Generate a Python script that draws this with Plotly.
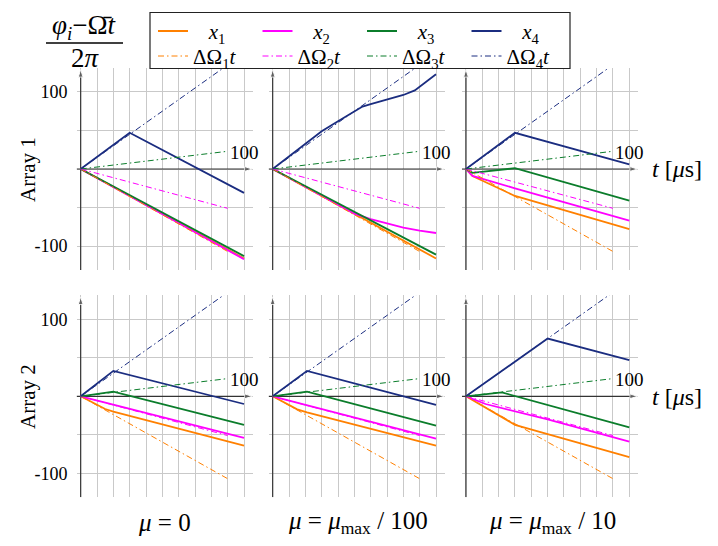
import plotly.graph_objects as go

FONT = "Liberation Serif"
COLORS = ["#ff8000", "#ff00ff", "#0b7d2b", "#1b2d80"]
SERIES_NAMES = ["\u00a0\u00a0\u00a0<i>x</i><sub>1</sub>", "\u00a0\u00a0\u00a0<i>x</i><sub>2</sub>",
                "\u00a0\u00a0\u00a0<i>x</i><sub>3</sub>", "\u00a0\u00a0\u00a0<i>x</i><sub>4</sub>"]
REF_NAMES = ["ΔΩ<sub>1</sub><i>t</i>", "ΔΩ<sub>2</sub><i>t</i>", "ΔΩ<sub>3</sub><i>t</i>", "ΔΩ<sub>4</sub><i>t</i>"]

ROW_LABELS = ["Array 1", "Array 2"]
COL_LABELS = ["<i>μ</i> = 0",
              "<i>μ</i> = <i>μ</i><sub>max</sub> / 100",
              "<i>μ</i> = <i>μ</i><sub>max</sub> / 10"]
X_TICKS = [0, 10, 20, 30, 40, 50, 60, 70, 80, 90, 100]
Y_LABEL_TICKS = [-100, 100]
Y_LABEL_TEXT = ["-100", "100"]
Y_MINOR_TICKS = [-50, 0, 50]
X_LABEL_VALUE = 100
X_RANGE = [-2.5, 105.5]
Y_RANGE = [-131, 131]
X_ARROW_END = 105
Y_ARROW_END = 129

# dash-dot reference lines  ΔΩ_i t  (t, phase)
REF_T = [0, 90]
REF_Y = [[0, -107], [0, -51], [0, 23], [0, 135]]

# Array 1, mu = 0          (x1, x2, x3, x4)
A1_M0_T = [[0, 100], [0, 100], [0, 100], [0, 30, 100]]
A1_M0_Y = [[0, -116], [0, -117], [0, -113], [0, 47, -31]]

# Array 1, mu = mu_max/100
A1_M100_T = [[0, 100], [0, 45, 50, 60, 70, 80, 90, 100], [0, 100],
             [0, 10, 20, 30, 40, 50, 55, 60, 70, 80, 87, 100]]
A1_M100_Y = [[0, -116], [0, -53, -58, -65, -71, -76, -80, -83], [0, -111],
             [0, 16, 33, 49, 62, 75, 81, 84, 90, 96, 102, 123]]

# Array 1, mu = mu_max/10
A1_M10_T = [[0, 4, 30, 60, 100], [0, 4, 30, 100], [0, 4, 30, 100], [0, 30, 100]]
A1_M10_Y = [[0, -9, -35, -53, -78], [0, -9, -25, -67], [0, -5, 1, -41], [0, 47, 6]]

# Array 2, mu = 0
A2_M0_T = [[0, 15, 20, 100], [0, 100], [0, 20, 100], [0, 20, 100]]
A2_M0_Y = [[0, -16.5, -20, -64], [0, -54], [0, 6, -37], [0, 33, -10]]

# Array 2, mu = mu_max/100
A2_M100_T = [[0, 15, 21, 100], [0, 100], [0, 21, 100], [0, 21, 100]]
A2_M100_Y = [[0, -17, -21, -64], [0, -55], [0, 6, -38], [0, 33, -11]]

# Array 2, mu = mu_max/10
A2_M10_T = [[0, 30, 50, 100], [0, 12, 50, 100], [0, 22, 100], [0, 50, 100]]
A2_M10_Y = [[0, -37, -49, -79], [0, -10, -30, -59], [0, 5, -40.5], [0, 75, 47]]

PANELS = [(A1_M0_T, A1_M0_Y), (A1_M100_T, A1_M100_Y), (A1_M10_T, A1_M10_Y),
          (A2_M0_T, A2_M0_Y), (A2_M100_T, A2_M100_Y), (A2_M10_T, A2_M10_Y)]

W, H = 718, 546
COL_PX = [(76.6, 253.0), (268.6, 445.0), (461.9, 638.3)]
ROW_PX = [(68.0, 270.0), (295.4, 497.2)]
AXIS_COLOR = "#333333"
GRID_COLOR = "#c9c9c9"
LEG_FONT = 21
LEG_H = LEG_FONT * 1.3 + 3


def px_x(p):
    return p / W


def px_y(p):
    return 1 - p / H


def legend_box(center_px):
    top = center_px - (5 + LEG_H / 2)
    return dict(orientation="h", x=px_x(153), y=px_y(top), xanchor="left", yanchor="top",
                entrywidth=59.5, bgcolor="rgba(0,0,0,0)", borderwidth=0,
                font=dict(family=FONT, size=LEG_FONT))


fig = go.Figure()
layout = dict(
    width=W, height=H, autosize=False,
    margin=dict(l=0, r=0, t=0, b=0),
    paper_bgcolor="white", plot_bgcolor="white",
    font=dict(family=FONT, size=18, color="black"),
    showlegend=True,
    legend=legend_box(31),
    legend2=legend_box(56),
)
annotations = []
shapes = []

for k, (T, Y) in enumerate(PANELS):
    r, c = divmod(k, 3)
    xs = "" if k == 0 else str(k + 1)
    xa, ya = "x" + xs, "y" + xs

    # axis lines with arrow heads (drawn beneath the data)
    fig.add_trace(go.Scatter(
        x=[X_RANGE[0], X_ARROW_END], y=[0, 0], mode="lines+markers",
        line=dict(color=AXIS_COLOR, width=1.2),
        marker=dict(symbol="arrow", angleref="previous", size=[0, 8], color=AXIS_COLOR),
        cliponaxis=False, showlegend=False, hoverinfo="skip", xaxis=xa, yaxis=ya))
    fig.add_trace(go.Scatter(
        x=[0, 0], y=[Y_RANGE[0], Y_ARROW_END], mode="lines+markers",
        line=dict(color=AXIS_COLOR, width=1.2),
        marker=dict(symbol="arrow", angleref="previous", size=[0, 8], color=AXIS_COLOR),
        cliponaxis=False, showlegend=False, hoverinfo="skip", xaxis=xa, yaxis=ya))

    for i in range(4):
        fig.add_trace(go.Scatter(
            x=T[i], y=Y[i], mode="lines", name=SERIES_NAMES[i],
            line=dict(color=COLORS[i], width=1.8),
            legend="legend", legendgroup="g%d" % i, showlegend=(k == 0),
            xaxis=xa, yaxis=ya, hoverinfo="skip"))
    for i in range(4):
        fig.add_trace(go.Scatter(
            x=REF_T, y=REF_Y[i], mode="lines", name=REF_NAMES[i],
            line=dict(color=COLORS[i], width=1, dash="6px,3px,1.5px,3px"),
            legend="legend2", legendgroup="r%d" % i, showlegend=(k == 0),
            xaxis=xa, yaxis=ya, hoverinfo="skip"))

    x0, x1 = COL_PX[c]
    y0, y1 = ROW_PX[r]
    layout["xaxis" + xs] = dict(
        domain=[px_x(x0), px_x(x1)], range=X_RANGE, anchor=ya,
        tickvals=X_TICKS, showticklabels=False, ticks="",
        showgrid=True, gridcolor=GRID_COLOR, gridwidth=1,
        zeroline=False, showline=False, fixedrange=True)
    layout["yaxis" + xs] = dict(
        domain=[px_y(y1), px_y(y0)], range=Y_RANGE, anchor=xa,
        tickmode="array", tickvals=Y_LABEL_TICKS, ticktext=Y_LABEL_TEXT,
        showticklabels=(c == 0),
        ticks="", ticklabelstandoff=8, tickfont=dict(size=18),
        showgrid=True, gridcolor=GRID_COLOR, gridwidth=1,
        minor=dict(tickmode="array", tickvals=Y_MINOR_TICKS, showgrid=True,
                   gridcolor=GRID_COLOR, gridwidth=1, ticks=""),
        zeroline=False, showline=False, fixedrange=True)

    # tick label 100 on the t axis
    annotations.append(dict(x=X_LABEL_VALUE, y=0, xref=xa, yref=ya, text=str(X_LABEL_VALUE),
                            showarrow=False, xanchor="center", yanchor="middle", yshift=17,
                            font=dict(size=19)))
    if c == 2:
        annotations.append(dict(x=px_x(650), y=px_y((y0 + y1) / 2 + 0.3), xref="paper", yref="paper",
                                text="<i>t</i> [<i>μ</i>s]", showarrow=False,
                                xanchor="left", yanchor="middle", font=dict(size=24)))

for r, lab in enumerate(ROW_LABELS):
    annotations.append(dict(x=px_x(28), y=px_y([170, 397][r]), xref="paper", yref="paper",
                            text=lab, textangle=-90, showarrow=False,
                            xanchor="center", yanchor="middle", font=dict(size=21)))
for c, lab in enumerate(COL_LABELS):
    annotations.append(dict(x=px_x([164, 358, 552][c]), y=px_y(522), xref="paper", yref="paper",
                            text=lab, showarrow=False, xanchor="center", yanchor="middle",
                            font=dict(size=25)))

# y-axis title as a fraction
annotations.append(dict(x=px_x(84), y=px_y(27), xref="paper", yref="paper",
                        text="<i>φ<sub>i</sub></i>\u2212Ω\u0304<i>t</i>", showarrow=False,
                        xanchor="center", yanchor="middle", font=dict(size=27)))
annotations.append(dict(x=px_x(85), y=px_y(58), xref="paper", yref="paper",
                        text="2<i>π</i>", showarrow=False,
                        xanchor="center", yanchor="middle", font=dict(size=27)))
shapes.append(dict(type="line", xref="paper", yref="paper",
                   x0=px_x(46), x1=px_x(123), y0=px_y(43), y1=px_y(43),
                   line=dict(color="black", width=1.3)))
# legend frame
shapes.append(dict(type="rect", xref="paper", yref="paper",
                   x0=px_x(150), x1=px_x(570), y0=px_y(12.5), y1=px_y(68.5),
                   line=dict(color="#222", width=1.2), fillcolor="rgba(0,0,0,0)"))

layout["annotations"] = annotations
layout["shapes"] = shapes
fig.update_layout(**layout)
fig.write_html("out.html")
